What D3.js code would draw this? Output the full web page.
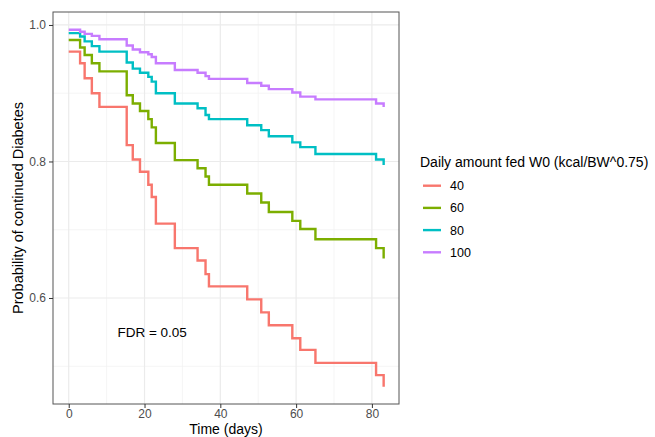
<!DOCTYPE html>
<html>
<head>
<meta charset="utf-8">
<script src="https://cdn.jsdelivr.net/npm/d3@7"></script>
<style>
  body { margin: 0; background: #fff; }
  svg { font-family: "Liberation Sans", Arial, sans-serif; }
</style>
</head>
<body>
<svg id="chart"></svg>
<script>
// event times (days) shared by all curves
const times = [0, 3, 4.2, 6.1, 8.1, 15.3, 16.9, 18.8, 21, 21.9, 23, 28, 34, 36.1, 37, 47.1, 50.8, 52.8, 59, 61.1, 65.1, 81.1, 83.1];

const groups = ['40', '60', '80', '100'];
const colors = ['#F8766D', '#7CAE00', '#00BFC4', '#C77CFF'];

const surv40  = [0.961, 0.944, 0.922, 0.900, 0.880, 0.824, 0.803, 0.785, 0.766, 0.748, 0.709, 0.673, 0.655, 0.635, 0.617, 0.598, 0.579, 0.560, 0.541, 0.524, 0.505, 0.487, 0.470];
const surv60  = [0.978, 0.967, 0.956, 0.944, 0.932, 0.897, 0.885, 0.874, 0.862, 0.850, 0.827, 0.802, 0.790, 0.778, 0.766, 0.753, 0.740, 0.726, 0.713, 0.701, 0.686, 0.673, 0.658];
const surv80  = [0.988, 0.983, 0.976, 0.969, 0.961, 0.945, 0.936, 0.930, 0.924, 0.917, 0.900, 0.885, 0.878, 0.868, 0.862, 0.853, 0.846, 0.837, 0.828, 0.821, 0.811, 0.803, 0.795];
const surv100 = [0.993, 0.990, 0.987, 0.984, 0.979, 0.970, 0.964, 0.960, 0.957, 0.953, 0.944, 0.934, 0.930, 0.925, 0.921, 0.915, 0.911, 0.906, 0.901, 0.895, 0.891, 0.885, 0.880];

const xTicks = [0, 20, 40, 60, 80];
const xMinor = [10, 30, 50, 70];
const yTicks = [0.6, 0.8, 1.0];
const yMinor = [0.5, 0.7, 0.9];

const series = [surv40, surv60, surv80, surv100];

const W = 655, H = 437;
const pLeft = 53, pRight = 399, pTop = 12, pBottom = 404;

const svg = d3.select('#chart').attr('width', W).attr('height', H);

const x = d3.scaleLinear().domain([-4.15, 87.15]).range([pLeft, pRight]);
const y = d3.scaleLinear().domain([0.4447, 1.019]).range([pBottom, pTop]);

// panel background
svg.append('rect')
  .attr('x', pLeft).attr('y', pTop)
  .attr('width', pRight - pLeft).attr('height', pBottom - pTop)
  .attr('fill', '#fff');

// minor grid
svg.append('g').selectAll('line').data(xMinor).enter().append('line')
  .attr('x1', d => x(d)).attr('x2', d => x(d))
  .attr('y1', pTop).attr('y2', pBottom)
  .attr('stroke', '#F2F2F2').attr('stroke-width', 0.8);
svg.append('g').selectAll('line').data(yMinor).enter().append('line')
  .attr('x1', pLeft).attr('x2', pRight)
  .attr('y1', d => y(d)).attr('y2', d => y(d))
  .attr('stroke', '#F2F2F2').attr('stroke-width', 0.8);

// major grid
svg.append('g').selectAll('line').data(xTicks).enter().append('line')
  .attr('x1', d => x(d)).attr('x2', d => x(d))
  .attr('y1', pTop).attr('y2', pBottom)
  .attr('stroke', '#EBEBEB').attr('stroke-width', 1.2);
svg.append('g').selectAll('line').data(yTicks).enter().append('line')
  .attr('x1', pLeft).attr('x2', pRight)
  .attr('y1', d => y(d)).attr('y2', d => y(d))
  .attr('stroke', '#EBEBEB').attr('stroke-width', 1.2);

// curves
const line = d3.line()
  .x(d => x(d[0]))
  .y(d => y(d[1]))
  .curve(d3.curveStepAfter);

series.forEach((s, i) => {
  svg.append('path')
    .datum(times.map((t, j) => [t, s[j]]))
    .attr('fill', 'none')
    .attr('stroke', colors[i])
    .attr('stroke-width', 2.4)
    .attr('d', line);
});

// annotation
svg.append('text')
  .attr('x', x(22)).attr('y', y(0.55) + 5)
  .attr('text-anchor', 'middle')
  .attr('font-size', 13.5)
  .attr('fill', '#000')
  .text('FDR = 0.05');

// panel border
svg.append('rect')
  .attr('x', pLeft).attr('y', pTop)
  .attr('width', pRight - pLeft).attr('height', pBottom - pTop)
  .attr('fill', 'none').attr('stroke', '#555').attr('stroke-width', 1);

// axes
const xAxis = d3.axisBottom(x).tickValues(xTicks).tickSize(4).tickPadding(1).tickFormat(d3.format('d'));
const yAxis = d3.axisLeft(y).tickValues(yTicks).tickSize(4).tickPadding(3).tickFormat(d3.format('.1f'));

const gx = svg.append('g').attr('transform', `translate(0,${pBottom})`).call(xAxis);
const gy = svg.append('g').attr('transform', `translate(${pLeft},0)`).call(yAxis);
[gx, gy].forEach(g => {
  g.select('.domain').remove();
  g.selectAll('.tick line').attr('stroke', '#333');
  g.selectAll('.tick text').attr('fill', '#4D4D4D').attr('font-size', 12)
    .attr('font-family', '"Liberation Sans", Arial, sans-serif');
});

// axis titles
svg.append('text')
  .attr('x', (pLeft + pRight) / 2).attr('y', 434)
  .attr('text-anchor', 'middle')
  .attr('font-size', 14)
  .text('Time (days)');

svg.append('text')
  .attr('transform', `translate(23,${(pTop + pBottom) / 2}) rotate(-90)`)
  .attr('text-anchor', 'middle')
  .attr('font-size', 14.5)
  .text('Probability of continued Diabetes');

// legend
const lg = svg.append('g');
lg.append('text')
  .attr('x', 420).attr('y', 167)
  .attr('font-size', 14)
  .text('Daily amount fed W0 (kcal/BW^0.75)');

groups.forEach((g, i) => {
  const ly = 185.7 + i * 22.2;
  lg.append('line')
    .attr('x1', 423).attr('x2', 441)
    .attr('y1', ly).attr('y2', ly)
    .attr('stroke', colors[i]).attr('stroke-width', 2.4);
  lg.append('text')
    .attr('x', 450).attr('y', ly + 4.5)
    .attr('font-size', 12.5)
    .text(g);
});
</script>
</body>
</html>
